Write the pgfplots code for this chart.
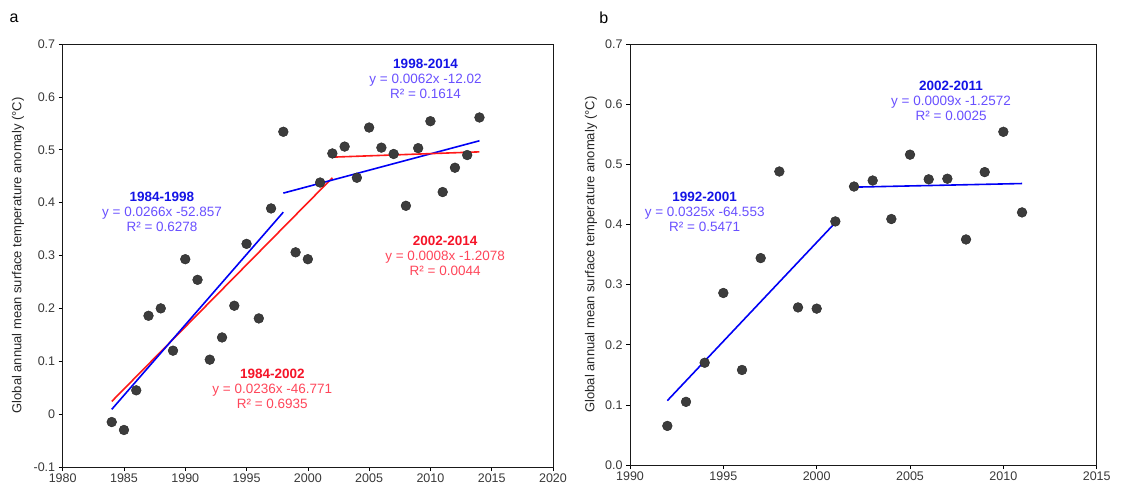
\documentclass[border=0pt]{standalone}
\usepackage{pgfplots}
\pgfplotsset{compat=1.18}
\usepackage{fontspec}
\setmainfont{Liberation Sans}
\definecolor{dot}{RGB}{60,60,60}
\definecolor{lblue}{RGB}{0,0,245}
\definecolor{hblue}{RGB}{20,20,230}
\definecolor{eblue}{RGB}{105,80,255}
\definecolor{lred}{RGB}{255,25,25}
\definecolor{hred}{RGB}{245,20,40}
\definecolor{ered}{RGB}{255,70,90}
\pgfplotsset{
  myaxis/.style={
    scale only axis, clip=false,
    axis line style={black!90, line width=0.9pt},
    tick align=outside, tick style={black, line width=0.7pt}, major tick length=4pt,
    xtick pos=bottom, ytick pos=left,
    /pgf/number format/assume math mode=true,
    /pgf/number format/1000 sep={},
    tick label style={font=\fontsize{12.5}{14}\selectfont, text=black!78},
    xticklabel style={yshift=1pt},
    ylabel style={font=\fontsize{13}{14}\selectfont, anchor=center, text=black!85},
    ylabel={Global annual mean surface temperature anomaly (°C)},
  },
  dots/.style={only marks, mark=*, mark size=4.9pt, mark options={fill=dot, draw=black!85, line width=0.4pt}},
  fitb/.style={lblue, line width=1.6pt, no marks},
  fitr/.style={lred, line width=1.6pt, no marks},
}
\tikzset{ann/.style={align=center, font=\fontsize{13.5}{15}\selectfont}}
\begin{document}
\begin{tikzpicture}
\useasboundingbox (0pt,0pt) rectangle (1146pt,490pt);
% ---------- panel a ----------
\begin{axis}[myaxis, at={(62.7pt,23pt)}, anchor=south west, width=490.3pt, height=423pt,
  xmin=1980, xmax=2020, ymin=-0.1, ymax=0.7,
  xtick={1980,1985,...,2020},
  ytick={-0.1,0,0.1,0.2,0.3,0.4,0.5,0.6,0.7},
  yticklabels={-0.1,0,0.1,0.2,0.3,0.4,0.5,0.6,0.7},
  ylabel style={at={(axis description cs:-0.091,0.5)}},
]
\addplot[dots] coordinates {
(1984,-0.015) (1985,-0.030) (1986,0.045) (1987,0.186) (1988,0.200)
(1989,0.120) (1990,0.293) (1991,0.254) (1992,0.103) (1993,0.145)
(1994,0.205) (1995,0.322) (1996,0.181) (1997,0.389) (1998,0.534)
(1999,0.306) (2000,0.293) (2001,0.438) (2002,0.493) (2003,0.506)
(2004,0.447) (2005,0.542) (2006,0.504) (2007,0.492) (2008,0.394)
(2009,0.503) (2010,0.554) (2011,0.420) (2012,0.466) (2013,0.490)
(2014,0.561)};
\addplot[fitr] coordinates {(1984,0.024) (2002,0.447)};
\addplot[fitb] coordinates {(1984,0.009) (1998,0.382)};
\addplot[fitb] coordinates {(1998,0.418) (2014,0.517)};
\addplot[fitr] coordinates {(2002,0.486) (2014,0.496)};
\node[ann] at (axis cs:2009.6,0.634)
  {\textcolor{hblue}{\bfseries 1998-2014}\\\textcolor{eblue}{y = 0.0062x -12.02}\\\textcolor{eblue}{R² = 0.1614}};
\node[ann] at (axis cs:1988.1,0.382)
  {\textcolor{hblue}{\bfseries 1984-1998}\\\textcolor{eblue}{y = 0.0266x -52.857}\\\textcolor{eblue}{R² = 0.6278}};
\node[ann] at (axis cs:2011.2,0.299)
  {\textcolor{hred}{\bfseries 2002-2014}\\\textcolor{ered}{y = 0.0008x -1.2078}\\\textcolor{ered}{R² = 0.0044}};
\node[ann] at (axis cs:1997.1,0.048)
  {\textcolor{hred}{\bfseries 1984-2002}\\\textcolor{ered}{y = 0.0236x -46.771}\\\textcolor{ered}{R² = 0.6935}};
\node[font=\fontsize{16}{18}\selectfont] at (axis description cs:-0.099,1.061) {a};
\end{axis}
% ---------- panel b ----------
\begin{axis}[myaxis, at={(630pt,25pt)}, anchor=south west, width=466.7pt, height=421pt,
  xmin=1990, xmax=2015, ymin=0, ymax=0.7,
  xtick={1990,1995,...,2015},
  ytick={0,0.1,0.2,0.3,0.4,0.5,0.6,0.7},
  yticklabels={0.0,0.1,0.2,0.3,0.4,0.5,0.6,0.7},
  ylabel style={at={(axis description cs:-0.0836,0.5)}},
]
\addplot[dots] coordinates {
(1992,0.065) (1993,0.105) (1994,0.170) (1995,0.286) (1996,0.158)
(1997,0.344) (1998,0.488) (1999,0.262) (2000,0.260) (2001,0.405)
(2002,0.463) (2003,0.473) (2004,0.409) (2005,0.516) (2006,0.475)
(2007,0.476) (2008,0.375) (2009,0.487) (2010,0.554) (2011,0.420)};
\addplot[fitb] coordinates {(1992,0.107) (2001,0.403)};
\addplot[fitb] coordinates {(2002,0.462) (2011,0.468)};
\node[ann] at (axis cs:2007.2,0.605)
  {\textcolor{hblue}{\bfseries 2002-2011}\\\textcolor{eblue}{y = 0.0009x -1.2572}\\\textcolor{eblue}{R² = 0.0025}};
\node[ann] at (axis cs:1994.0,0.421)
  {\textcolor{hblue}{\bfseries 1992-2001}\\\textcolor{eblue}{y = 0.0325x -64.553}\\\textcolor{eblue}{R² = 0.5471}};
\node[font=\fontsize{16}{18}\selectfont] at (axis description cs:-0.056,1.062) {b};
\end{axis}
\end{tikzpicture}
\end{document}
